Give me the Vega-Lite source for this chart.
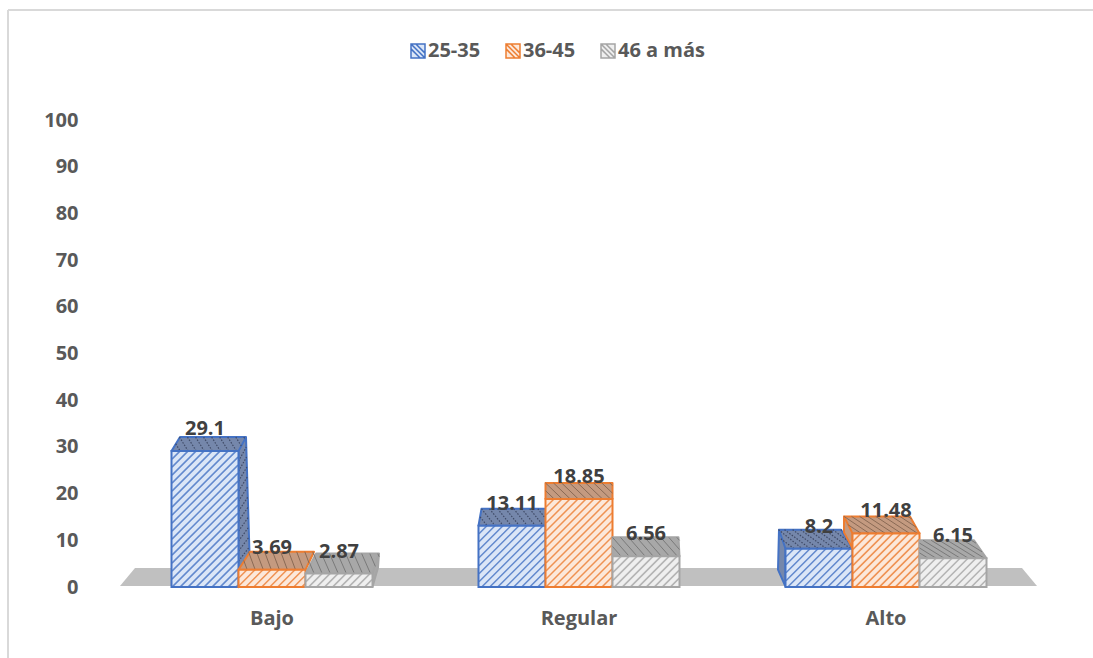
{
  "$schema": "https://vega.github.io/schema/vega-lite/v6.json",
  "width": 1085,
  "height": 648,
  "autosize": "none",
  "padding": {"left": 8, "top": 10, "right": 0, "bottom": 0},
  "background": "#ffffff",
  "config": {
    "view": {"stroke": null},
    "font": "Open Sans",
    "axis": {"labelFont": "Open Sans", "labelFontWeight": "bold", "labelFontSize": 20, "labelColor": "#595959"}
  },
  "datasets": {
    "bars": [
      {"Nivel": "Bajo", "Edad": "25-35", "valor": 29.1},
      {"Nivel": "Bajo", "Edad": "36-45", "valor": 3.69},
      {"Nivel": "Bajo", "Edad": "46 a más", "valor": 2.87},
      {"Nivel": "Regular", "Edad": "25-35", "valor": 13.11},
      {"Nivel": "Regular", "Edad": "36-45", "valor": 18.85},
      {"Nivel": "Regular", "Edad": "46 a más", "valor": 6.56},
      {"Nivel": "Alto", "Edad": "25-35", "valor": 8.2},
      {"Nivel": "Alto", "Edad": "36-45", "valor": 11.48},
      {"Nivel": "Alto", "Edad": "46 a más", "valor": 6.15}
    ],
    "floor": [{"Nivel": "Regular", "valor": 0}]
  },
  "layer": [
    {"data": {"name": "floor"}, "mark": {"type": "rule", "color": "#d9d9d9", "strokeWidth": 2}, "encoding": {"x": {"value": 0}}},
    {"data": {"name": "floor"}, "mark": {"type": "rule", "color": "#d9d9d9", "strokeWidth": 2}, "encoding": {"y": {"value": 0}}},
    {
      "data": {"name": "floor"},
      "mark": {"type": "point", "filled": true, "opacity": 1, "size": 4, "fill": "#c0c0c0", "stroke": null, "shape": "M-459 -1L-444 -19L443 -19L458 -1Z"},
      "encoding": {
        "x": {"field": "Nivel", "type": "nominal", "sort": ["Bajo", "Regular", "Alto"],
          "scale": {"domain": ["Bajo", "Regular", "Alto"], "range": [110.5, 1031.5], "paddingInner": 0, "paddingOuter": 0},
          "axis": {"title": null, "domain": false, "ticks": false, "grid": false, "labelAngle": 0, "offset": -40, "labelPadding": 0, "labelBaseline": "middle"}},
        "y": {"field": "valor", "type": "quantitative",
          "scale": {"domain": [0, 100], "range": [577, 110], "nice": false},
          "axis": {"title": null, "domain": false, "ticks": false, "grid": false, "values": [0, 10, 20, 30, 40, 50, 60, 70, 80, 90, 100], "offset": -70, "labelPadding": 0}}
      }
    },
    {
      "data": {"name": "bars"},
      "encoding": {
        "x": {"field": "Nivel", "type": "nominal", "sort": ["Bajo", "Regular", "Alto"]},
        "xOffset": {"field": "Edad", "type": "nominal", "scale": {"domain": ["25-35", "36-45", "46 a más"], "paddingInner": 0, "paddingOuter": 0.791}},
        "y": {"field": "valor", "type": "quantitative"}
      },
      "resolve": {"scale": {"shape": "independent"}},
      "layer": [
        {
          "transform": [{"filter": "datum.Edad === '25-35'"}],
          "mark": {"type": "point", "filled": true, "opacity": 1, "size": 4, "fill": "#7587ab", "stroke": "#4472c4", "strokeWidth": 2, "strokeJoin": "round"},
          "encoding": {"shape": {"field": "Nivel", "type": "nominal", "legend": null, "scale": {"domain": ["Bajo", "Regular", "Alto"], "range": [
            "M-33.5 0L-25 -14L41 -14L33.5 0ZM33.5 0L41 -14L45 119L33.5 136Z",
            "M-33.5 0L-30.5 -17L35 -17L33.5 0Z",
            "M-33.5 0L-40 -19L22 -19L33.5 0ZM-33.5 0L-40 -19L-41 21L-33.5 38Z"
          ]}}}
        },
        {
          "transform": [{"filter": "datum.Edad === '25-35'"}],
          "mark": {"type": "point", "filled": false, "opacity": 1, "size": 4, "stroke": "#3f4a66", "strokeWidth": 1.2, "strokeDash": [1.5, 1.5]},
          "encoding": {"shape": {"field": "Nivel", "type": "nominal", "legend": null, "scale": {"domain": ["Bajo", "Regular", "Alto"], "range": [
            "M-29.3 -7.3L-24.8 0M-25.5 -14L-16.8 0M-17.5 -14L-8.7 0M-9.4 -14L-0.7 0M-1.4 -14L7.4 0M6.7 -14L15.4 0M14.7 -14L23.5 0M22.7 -14L31.5 0M30.8 -14L36.4 -5M38.8 -14L40.2 -11.8M33.5 10L41.3 -4M33.5 20L41.6 6M33.5 30L41.9 16M33.5 40L42.2 26M33.5 50L42.5 36M33.5 60L42.8 46M33.5 70L43.1 56M33.5 80L43.4 66M33.5 90L43.7 76M33.5 100L44 86M33.5 110L44.3 96M33.5 120L44.6 106M33.5 130L45 116",
            "M-31.9 -8.8L-24.8 0M-30.5 -17L-16.8 0M-22.5 -17L-8.7 0M-14.4 -17L-0.7 0M-6.4 -17L7.4 0M1.7 -17L15.4 0M9.7 -17L23.5 0M17.7 -17L31.5 0M25.8 -17L34.6 -6.1M33.8 -17L36 -14.3",
            "M-38.2 -9.9L-24.8 0M-40.5 -19L-16.8 0M-34.5 -19L-8.7 0M-26.4 -19L-0.7 0M-18.4 -19L7.4 0M-10.3 -19L15.4 0M-2.3 -19L23.5 0M5.7 -19L31.5 0M13.8 -19L30.3 -6.8M21.8 -19L25.9 -16"
          ]}}}
        },
        {
          "transform": [{"filter": "datum.Edad === '25-35'"}],
          "mark": {"type": "bar", "strokeWidth": 2},
          "encoding": {
            "fill": {"field": "Edad", "type": "nominal", "scale": {"domain": ["25-35", "36-45", "46 a más"], "range": ["#dbe6f7", "#fce8da", "#efefef"]},
              "legend": {"title": null, "orient": "none", "legendX": 400, "legendY": 31, "direction": "horizontal", "symbolType": "M-1 -1L1 -1L1 1L-1 1ZM-1 -1L1 1M-0.3 -1L1 0.3M-1 -0.3L0.3 1", "symbolSize": 196, "symbolStrokeWidth": 1.5, "symbolOpacity": 1, "labelFont": "Open Sans", "labelFontWeight": "bold", "labelFontSize": 20, "labelColor": "#595959", "labelOffset": 0, "columnPadding": 22}},
            "stroke": {"field": "Edad", "type": "nominal", "scale": {"domain": ["25-35", "36-45", "46 a más"], "range": ["#4472c4", "#ed7d31", "#a5a5a5"]}, "legend": {"title": null}}
          }
        },
        {
          "transform": [{"filter": "datum.Edad === '25-35'"}],
          "mark": {"type": "point", "filled": false, "opacity": 0.8, "size": 4, "stroke": "#4472c4", "strokeWidth": 1.5},
          "encoding": {"shape": {"field": "Nivel", "type": "nominal", "legend": null, "scale": {"domain": ["Bajo", "Regular", "Alto"], "range": [
            "M-25 0L-33 8M-17 0L-33 16M-9 0L-33 24M-1 0L-33 32M7 0L-33 40M15 0L-33 48M23 0L-33 56M31 0L-33 64M33 6L-33 72M33 14L-33 80M33 22L-33 88M33 30L-33 96M33 38L-33 104M33 46L-33 112M33 54L-33 120M33 62L-33 128M33 70L-33 136M33 78L-25 136M33 86L-17 136M33 94L-9 136M33 102L-1 136M33 110L7 136M33 118L15 136M33 126L23 136M33 134L31 136",
            "M-25 0L-33 8M-17 0L-33 16M-9 0L-33 24M-1 0L-33 32M7 0L-33 40M15 0L-33 48M23 0L-33 56M31 0L-30 61M33 6L-22 61M33 14L-14 61M33 22L-6 61M33 30L2 61M33 38L10 61M33 46L18 61M33 54L26 61",
            "M-25 0L-33 8M-17 0L-33 16M-9 0L-33 24M-1 0L-33 32M7 0L-31 38M15 0L-23 38M23 0L-15 38M31 0L-7 38M33 6L1 38M33 14L9 38M33 22L17 38M33 30L25 38"
          ]}}}
        },
        {
          "transform": [{"filter": "datum.Edad === '36-45'"}],
          "mark": {"type": "point", "filled": true, "opacity": 1, "size": 4, "fill": "#c49a80", "stroke": "#ed7d31", "strokeWidth": 2, "strokeJoin": "round"},
          "encoding": {"shape": {"field": "Nivel", "type": "nominal", "legend": null, "scale": {"domain": ["Bajo", "Regular", "Alto"], "range": [
            "M-33.5 0L-22 -18L42 -18L33.5 0Z",
            "M-33.5 0L-33.5 -16L33.5 -16L33.5 0Z",
            "M-33.5 0L-42 -17L24 -17L33.5 0ZM-33.5 0L-42 -17L-42 -1L-33.5 15Z"
          ]}}}
        },
        {
          "transform": [{"filter": "datum.Edad === '36-45'"}],
          "mark": {"type": "point", "filled": false, "opacity": 1, "size": 4, "stroke": "#8a6a55", "strokeWidth": 1},
          "encoding": {"shape": {"field": "Nivel", "type": "nominal", "legend": null, "scale": {"domain": ["Bajo", "Regular", "Alto"], "range": [
            "M-28.3 -9.4L-24.8 0M-23.5 -18L-16.8 0M-15.5 -18L-8.7 0M-7.4 -18L-0.7 0M0.6 -18L7.4 0M8.7 -18L15.4 0M16.7 -18L23.5 0M24.7 -18L31.5 0M32.8 -18L37.1 -6.5M40.8 -18L41.9 -15.1",
            "M-33.5 -8.3L-24.8 0M-33.5 -16L-16.8 0M-25.5 -16L-8.7 0M-17.4 -16L-0.7 0M-9.4 -16L7.4 0M-1.3 -16L15.4 0M6.7 -16L23.5 0M14.7 -16L31.5 0M22.8 -16L33.5 -5.8M30.8 -16L33.5 -13.4",
            "M-38.2 -8.8L-24.8 0M-42 -17L-16.8 0M-34.5 -17L-8.7 0M-26.4 -17L-0.7 0M-18.4 -17L7.4 0M-10.3 -17L15.4 0M-2.3 -17L23.5 0M5.7 -17L31.5 0M13.8 -17L30.3 -6.1M21.8 -17L25.9 -14.3"
          ]}}}
        },
        {
          "transform": [{"filter": "datum.Edad === '36-45'"}],
          "mark": {"type": "bar", "strokeWidth": 2},
          "encoding": {
            "fill": {"field": "Edad", "type": "nominal"},
            "stroke": {"field": "Edad", "type": "nominal"}
          }
        },
        {
          "transform": [{"filter": "datum.Edad === '36-45'"}],
          "mark": {"type": "point", "filled": false, "opacity": 0.8, "size": 4, "stroke": "#ed7d31", "strokeWidth": 1.5},
          "encoding": {"shape": {"field": "Nivel", "type": "nominal", "legend": null, "scale": {"domain": ["Bajo", "Regular", "Alto"], "range": [
            "M-25 0L-33 8M-17 0L-33 16M-9 0L-26 17M-1 0L-18 17M7 0L-10 17M15 0L-2 17M23 0L6 17M31 0L14 17M33 6L22 17M33 14L30 17",
            "M-25 0L-33 8M-17 0L-33 16M-9 0L-33 24M-1 0L-33 32M7 0L-33 40M15 0L-33 48M23 0L-33 56M31 0L-33 64M33 6L-33 72M33 14L-33 80M33 22L-33 88M33 30L-25 88M33 38L-17 88M33 46L-9 88M33 54L-1 88M33 62L7 88M33 70L15 88M33 78L23 88M33 86L31 88",
            "M-25 0L-33 8M-17 0L-33 16M-9 0L-33 24M-1 0L-33 32M7 0L-33 40M15 0L-33 48M23 0L-31 54M31 0L-23 54M33 6L-15 54M33 14L-7 54M33 22L1 54M33 30L9 54M33 38L17 54M33 46L25 54"
          ]}}}
        },
        {
          "transform": [{"filter": "datum.Edad === '46 a más'"}],
          "mark": {"type": "point", "filled": true, "opacity": 1, "size": 4, "fill": "#a8a8a8", "stroke": "#a5a5a5", "strokeWidth": 2, "strokeJoin": "round"},
          "encoding": {"shape": {"field": "Nivel", "type": "nominal", "legend": null, "scale": {"domain": ["Bajo", "Regular", "Alto"], "range": [
            "M-33.5 0L-23 -20L40 -20L33.5 0ZM33.5 0L40 -20L39 -6L33.5 13Z",
            "M-33.5 0L-33.5 -19L32.5 -19L33.5 0Z",
            "M-33.5 0L-33.5 -18L21 -18L33.5 0Z"
          ]}}}
        },
        {
          "transform": [{"filter": "datum.Edad === '46 a más'"}],
          "mark": {"type": "point", "filled": false, "opacity": 1, "size": 4, "stroke": "#7a7a7a", "strokeWidth": 1},
          "encoding": {"shape": {"field": "Nivel", "type": "nominal", "legend": null, "scale": {"domain": ["Bajo", "Regular", "Alto"], "range": [
            "M-29.3 -10.4L-24.8 0M-25.5 -20L-16.8 0M-17.5 -20L-8.7 0M-9.4 -20L-0.7 0M-1.4 -20L7.4 0M6.7 -20L15.4 0M14.7 -20L23.5 0M22.7 -20L31.5 0M30.8 -20L36.4 -7.2M38.8 -20L40.2 -16.8",
            "M-33.5 -9.9L-24.8 0M-33.5 -19L-16.8 0M-25.5 -19L-8.7 0M-17.4 -19L-0.7 0M-9.4 -19L7.4 0M-1.3 -19L15.4 0M6.7 -19L23.5 0M14.7 -19L31.5 0M22.8 -19L33.5 -6.8M30.8 -19L33.5 -16",
            "M-33.5 -5.4L-24.8 0M-33.5 -10.3L-16.8 0M-33.5 -15.2L-8.7 0M-29.9 -18L-0.7 0M-21.9 -18L7.4 0M-13.8 -18L15.4 0M-5.8 -18L23.5 0M2.2 -18L31.5 0M10.3 -18L29 -6.5M18.3 -18L23 -15.1"
          ]}}}
        },
        {
          "transform": [{"filter": "datum.Edad === '46 a más'"}],
          "mark": {"type": "bar", "strokeWidth": 2},
          "encoding": {
            "fill": {"field": "Edad", "type": "nominal"},
            "stroke": {"field": "Edad", "type": "nominal"}
          }
        },
        {
          "transform": [{"filter": "datum.Edad === '46 a más'"}],
          "mark": {"type": "point", "filled": false, "opacity": 0.8, "size": 4, "stroke": "#a5a5a5", "strokeWidth": 1.5},
          "encoding": {"shape": {"field": "Nivel", "type": "nominal", "legend": null, "scale": {"domain": ["Bajo", "Regular", "Alto"], "range": [
            "M-25 0L-33 8M-17 0L-30 13M-9 0L-22 13M-1 0L-14 13M7 0L-6 13M15 0L2 13M23 0L10 13M31 0L18 13M33 6L26 13",
            "M-25 0L-33 8M-17 0L-33 16M-9 0L-33 24M-1 0L-32 31M7 0L-24 31M15 0L-16 31M23 0L-8 31M31 0L0 31M33 6L8 31M33 14L16 31M33 22L24 31",
            "M-25 0L-33 8M-17 0L-33 16M-9 0L-33 24M-1 0L-30 29M7 0L-22 29M15 0L-14 29M23 0L-6 29M31 0L2 29M33 6L10 29M33 14L18 29M33 22L26 29"
          ]}}}
        },
        {
          "mark": {"type": "text", "font": "Open Sans", "fontWeight": "bold", "fontSize": 20, "fill": "#404040", "baseline": "middle", "dy": -22},
          "encoding": {"text": {"field": "valor", "type": "quantitative"}}
        }
      ]
    }
  ],
  "resolve": {"scale": {"shape": "independent"}}
}
